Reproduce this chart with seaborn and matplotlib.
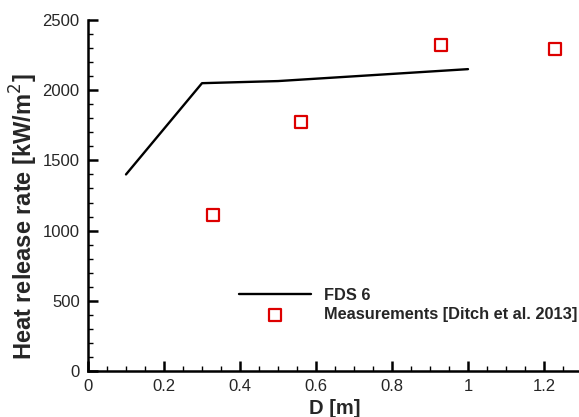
import matplotlib
matplotlib.use("Agg")
import matplotlib.pyplot as plt
import seaborn as sns
import pandas as pd
from matplotlib.ticker import MultipleLocator

# Data
fds_d = [0.1, 0.3, 0.5, 1.0]
fds_hrr = [1400, 2050, 2065, 2150]
meas_d = [0.33, 0.56, 0.93, 1.23]
meas_hrr = [1110, 1775, 2320, 2290]

sns.set_style("ticks")
plt.rcParams['font.family'] = ['Liberation Sans', 'DejaVu Sans']

fig = plt.figure(figsize=(5.79, 4.17), dpi=100)
ax = fig.add_axes([88/579, 46/417, 494/579, 351/417])

df_line = pd.DataFrame({"D": fds_d, "HRR": fds_hrr})
df_pts = pd.DataFrame({"D": meas_d, "HRR": meas_hrr})

sns.lineplot(data=df_line, x="D", y="HRR", ax=ax, color="black", lw=1.7,
             label="FDS 6", sort=False)
sns.scatterplot(data=df_pts, x="D", y="HRR", ax=ax, marker="s", s=85,
                facecolor="white", edgecolor="#dd0000", linewidth=1.6,
                label="Measurements [Ditch et al. 2013]", zorder=3, clip_on=False)

ax.set_xlim(0, 1.3)
ax.set_ylim(0, 2500)
ax.xaxis.set_major_locator(MultipleLocator(0.2))
ax.xaxis.set_minor_locator(MultipleLocator(0.05))
ax.yaxis.set_major_locator(MultipleLocator(500))
ax.yaxis.set_minor_locator(MultipleLocator(100))
ax.set_xticks([0, 0.2, 0.4, 0.6, 0.8, 1.0, 1.2])
ax.set_xticklabels(["0", "0.2", "0.4", "0.6", "0.8", "1", "1.2"])

ax.tick_params(which="major", direction="in", length=7, width=1.8, labelsize=12, pad=6, color="black")
ax.tick_params(which="minor", direction="in", length=3.5, width=1.0, color="black")
for s in ["top", "right"]:
    ax.spines[s].set_visible(False)
for s in ["left", "bottom"]:
    ax.spines[s].set_linewidth(1.8)
    ax.spines[s].set_color("black")

ax.set_xlabel("D [m]", fontsize=14.5, fontweight="bold", labelpad=3)
ax.set_ylabel("Heat release rate [kW/m$^2$]", fontsize=17, fontweight="bold")
ax.yaxis.set_label_coords(-0.098, 0.44)

leg = ax.legend(loc="upper left", bbox_to_anchor=((239-88)/494, (371-288)/351),
                frameon=False, borderpad=0, borderaxespad=0, handlelength=4.4,
                handletextpad=0.8, labelspacing=0.25,
                prop={"weight": "bold", "size": 11.8})

fig.savefig("out.png", dpi=100)
